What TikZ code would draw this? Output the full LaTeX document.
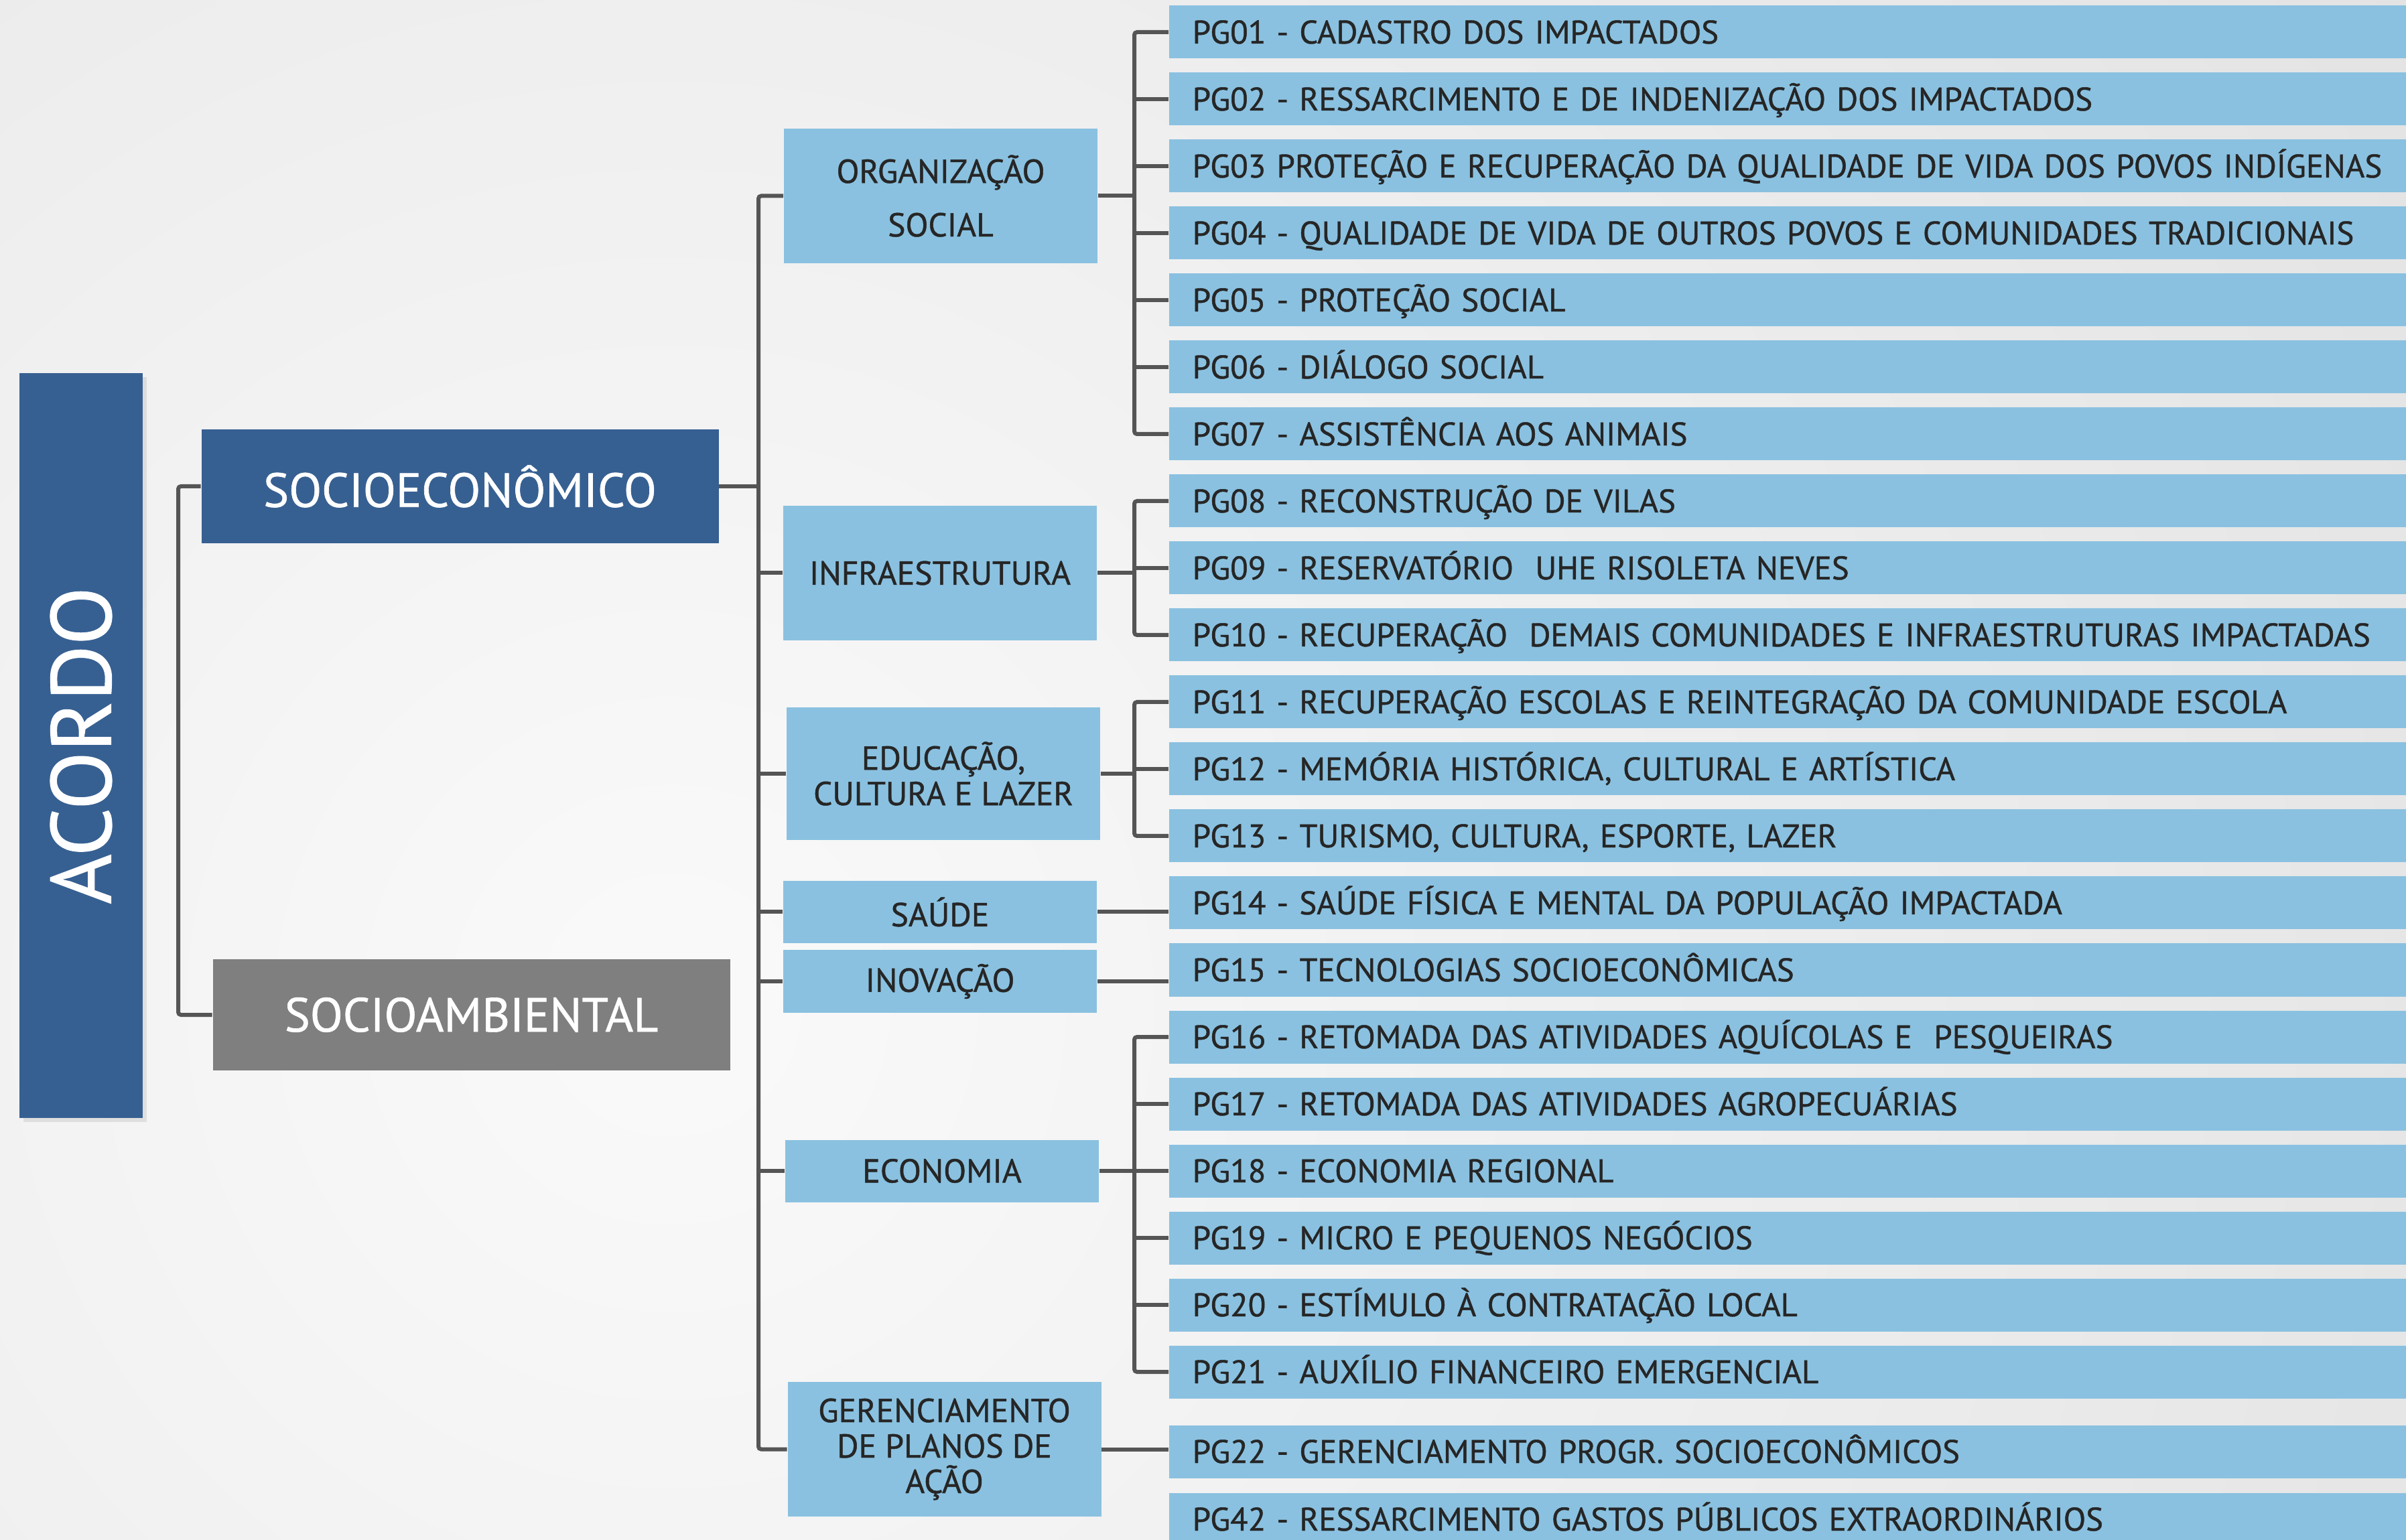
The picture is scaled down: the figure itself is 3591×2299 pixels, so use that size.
\documentclass[tikz,border=0pt]{standalone}
\usepackage{fontspec}
\setmainfont{PT Sans}
\newfontfamily\heavy{PT Sans}[FakeBold=0.9]
\usetikzlibrary{shadows}
\definecolor{bgout}{HTML}{DADADA}
\definecolor{bgin}{HTML}{FAFAFA}
\definecolor{lblue}{HTML}{8AC1E0}
\definecolor{dblue}{HTML}{376092}
\definecolor{mgrey}{HTML}{7F7F7F}
\definecolor{txt}{HTML}{262626}
\definecolor{lnc}{HTML}{555555}
\begin{document}
\begin{tikzpicture}[x=0.25pt,y=-0.25pt,
  pg/.style={fill=lblue, anchor=west, minimum height=19.75pt, text width=446.5pt,
    inner xsep=8.75pt, inner ysep=0pt, align=left,
    font=\heavy\fontsize{12.2}{14}\selectfont, text=txt, text height=8.5pt, text depth=0pt},
  mid/.style={fill=lblue, minimum width=117pt, inner sep=0pt, align=center,
    font=\heavy\fontsize{12.4}{13.25}\selectfont, text=txt},
  big/.style={minimum width=193pt, inner sep=0pt, text=white,
    font=\heavy\fontsize{17.9}{20}\selectfont},
  conn/.style={draw=lnc, line width=1.5pt, rounded corners=1pt}]
\useasboundingbox (0,0) rectangle (3591,2299);
\clip (0,0) rectangle (3591,2299);
\fill[bgout] (0,0) rectangle (3591,2299);
\shade[inner color=bgin, outer color=bgout] (1000,1500) circle (4200);

% coordinates for bracket lines
\coordinate (lb) at (266,0);
\coordinate (trunk) at (1132,0);
\coordinate (sb) at (1693,0);

% left column
\node[fill=dblue, minimum width=46pt, minimum height=278pt, inner sep=0pt,
  drop shadow={shadow xshift=1.5pt, shadow yshift=-1.5pt, opacity=0.18}] (acordo) at (121,1113) {};
\node[rotate=90, text=white, inner sep=0pt, font=\heavy\fontsize{31.8}{34}\selectfont] (acordotxt) at (acordo.center) {ACORDO};

\node[big, fill=dblue, minimum height=42.5pt] (se) at (686.5,726) {SOCIOECONÔMICO};
\node[big, fill=mgrey, minimum height=41.5pt] (sa) at (703.5,1515) {SOCIOAMBIENTAL};

% middle column
\node[mid, minimum height=50.25pt, font=\heavy\fontsize{12.4}{20}\selectfont] (org) at (1404,292.5) {ORGANIZAÇÃO\\SOCIAL};
\node[mid, minimum height=50.25pt] (infra) at (1403,855.5) {INFRAESTRUTURA};
\node[mid, minimum height=49.5pt] (educ) at (1408,1155) {EDUCAÇÃO,\\CULTURA E LAZER};
\node[mid, minimum height=23.25pt] (saude) at (1403,1361.5) {SAÚDE};
\node[mid, minimum height=23.5pt] (inov) at (1403,1465) {INOVAÇÃO};
\node[mid, minimum height=23.25pt] (econ) at (1406,1748) {ECONOMIA};
\node[mid, minimum height=50.25pt] (ger) at (1409.5,2163.5) {GERENCIAMENTO\\DE PLANOS DE\\AÇÃO};

% right column
\node[pg] (pg01) at (1744,48) {PG01 - CADASTRO DOS IMPACTADOS};
\node[pg] (pg02) at (1744,148) {PG02 - RESSARCIMENTO E DE INDENIZAÇÃO DOS IMPACTADOS};
\node[pg] (pg03) at (1744,248) {PG03 PROTEÇÃO E RECUPERAÇÃO DA QUALIDADE DE VIDA DOS POVOS INDÍGENAS};
\node[pg] (pg04) at (1744,348) {PG04 - QUALIDADE DE VIDA DE OUTROS POVOS E COMUNIDADES TRADICIONAIS};
\node[pg] (pg05) at (1744,448) {PG05 - PROTEÇÃO SOCIAL};
\node[pg] (pg06) at (1744,548) {PG06 - DIÁLOGO SOCIAL};
\node[pg] (pg07) at (1744,648) {PG07 - ASSISTÊNCIA AOS ANIMAIS};
\node[pg] (pg08) at (1744,748) {PG08 - RECONSTRUÇÃO DE VILAS};
\node[pg] (pg09) at (1744,848) {PG09 - RESERVATÓRIO \ UHE RISOLETA NEVES};
\node[pg] (pg10) at (1744,948) {PG10 - RECUPERAÇÃO \ DEMAIS COMUNIDADES E INFRAESTRUTURAS IMPACTADAS};
\node[pg] (pg11) at (1744,1048) {PG11 - RECUPERAÇÃO ESCOLAS E REINTEGRAÇÃO DA COMUNIDADE ESCOLA};
\node[pg] (pg12) at (1744,1148) {PG12 - MEMÓRIA HISTÓRICA, CULTURAL E ARTÍSTICA};
\node[pg] (pg13) at (1744,1248) {PG13 - TURISMO, CULTURA, ESPORTE, LAZER};
\node[pg] (pg14) at (1744,1348) {PG14 - SAÚDE FÍSICA E MENTAL DA POPULAÇÃO IMPACTADA};
\node[pg] (pg15) at (1744,1448) {PG15 - TECNOLOGIAS SOCIOECONÔMICAS};
\node[pg] (pg16) at (1744,1548) {PG16 - RETOMADA DAS ATIVIDADES AQUÍCOLAS E \ PESQUEIRAS};
\node[pg] (pg17) at (1744,1648) {PG17 - RETOMADA DAS ATIVIDADES AGROPECUÁRIAS};
\node[pg] (pg18) at (1744,1748) {PG18 - ECONOMIA REGIONAL};
\node[pg] (pg19) at (1744,1848) {PG19 - MICRO E PEQUENOS NEGÓCIOS};
\node[pg] (pg20) at (1744,1948) {PG20 - ESTÍMULO À CONTRATAÇÃO LOCAL};
\node[pg] (pg21) at (1744,2048) {PG21 - AUXÍLIO FINANCEIRO EMERGENCIAL};
\node[pg] (pg22) at (1744,2167) {PG22 - GERENCIAMENTO PROGR. SOCIOECONÔMICOS};
\node[pg] (pg42) at (1744,2268) {PG42 - RESSARCIMENTO GASTOS PÚBLICOS EXTRAORDINÁRIOS};

% connectors: left bracket
\draw[conn] (se.west) -- (se.west -| lb) |- (sa.west);
\draw[conn] (se.east) -- (se.east -| trunk);
% trunk
\draw[conn] (org.west) -- (org.west -| trunk) |- (ger.west);
\foreach \n in {infra,educ,saude,inov,econ}
  \draw[conn] (\n.west) -- (\n.west -| trunk);
% organizacao social
\draw[conn] (org.east) -- (org.east -| sb);
\draw[conn] (pg01.west) -- (pg01.west -| sb) |- (pg07.west);
\foreach \n in {pg02,pg03,pg04,pg05,pg06}
  \draw[conn] (\n.west) -- (\n.west -| sb);
% infraestrutura
\draw[conn] (infra.east) -- (infra.east -| sb);
\draw[conn] (pg08.west) -- (pg08.west -| sb) |- (pg10.west);
\draw[conn] (pg09.west) -- (pg09.west -| sb);
% educacao
\draw[conn] (educ.east) -- (educ.east -| sb);
\draw[conn] (pg11.west) -- (pg11.west -| sb) |- (pg13.west);
\draw[conn] (pg12.west) -- (pg12.west -| sb);
% saude, inovacao
\draw[conn] (saude.east) -- (saude.east -| pg14.west);
\draw[conn] (inov.east) -- (inov.east -| pg15.west);
% economia
\draw[conn] (econ.east) -- (econ.east -| sb);
\draw[conn] (pg16.west) -- (pg16.west -| sb) |- (pg21.west);
\foreach \n in {pg17,pg18,pg19,pg20}
  \draw[conn] (\n.west) -- (\n.west -| sb);
% gerenciamento
\draw[conn] (ger.east) -- (ger.east -| pg22.west);
\end{tikzpicture}
\end{document}
